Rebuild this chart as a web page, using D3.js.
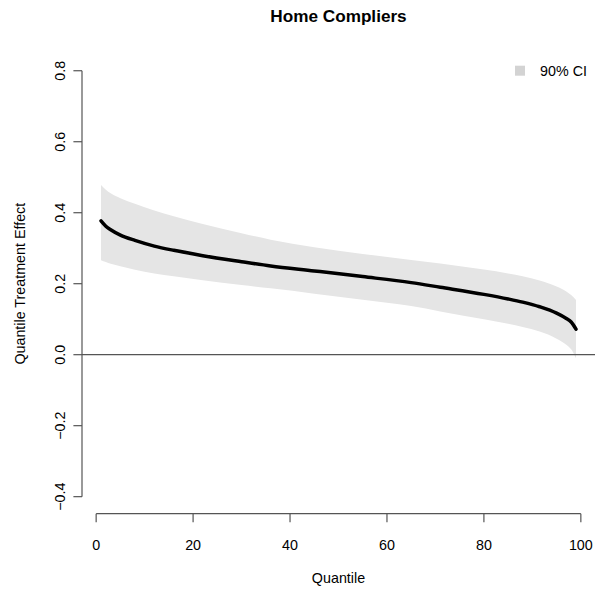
<!DOCTYPE html>
<html>
<head>
<meta charset="utf-8">
<script src="https://cdn.jsdelivr.net/npm/d3@7"></script>
<style>
  body { margin: 0; background: #fff; }
  text { font-family: "Liberation Sans", Arial, sans-serif; }
</style>
</head>
<body>
<div id="chart"></div>
<script>
const quantiles = [1, 2, 3, 5, 8, 12, 16, 22, 30, 36, 45, 55, 65, 71, 80, 85, 88, 91.5, 95, 97, 98, 99];
// point estimate
const effect   = [0.377, 0.362, 0.352, 0.337, 0.322, 0.306, 0.294, 0.279, 0.262, 0.250, 0.236, 0.220, 0.203, 0.190, 0.170, 0.157, 0.148, 0.135, 0.117, 0.102, 0.092, 0.072];
// 90% band
const ciUpper  = [0.478, 0.465, 0.455, 0.441, 0.425, 0.406, 0.390, 0.368, 0.342, 0.324, 0.303, 0.284, 0.267, 0.257, 0.240, 0.229, 0.221, 0.209, 0.192, 0.178, 0.168, 0.154];
const ciLower  = [0.266, 0.261, 0.256, 0.249, 0.239, 0.229, 0.221, 0.210, 0.196, 0.187, 0.172, 0.155, 0.137, 0.122, 0.100, 0.087, 0.078, 0.065, 0.045, 0.028, 0.015, -0.010];

const xTicks = [0, 20, 40, 60, 80, 100];
const yTicks = [-0.4, -0.2, 0.0, 0.2, 0.4, 0.6, 0.8];

const width = 600, height = 589;
const plot = { left: 82, right: 595, top: 53.7, bottom: 513.7 };
const fs = 14.3;   // base font size
const lh = 17.2;   // one margin line

const data = quantiles.map((q, i) => ({ q, est: effect[i], lo: ciLower[i], hi: ciUpper[i] }));

const x = d3.scaleLinear().domain([1 - 3.92, 99 + 3.92]).range([plot.left, plot.right]);
const y = d3.scaleLinear().domain([-0.448, 0.848]).range([plot.bottom, plot.top]);

const svg = d3.select("#chart").append("svg")
  .attr("width", width)
  .attr("height", height);

// confidence band
svg.append("path")
  .datum(data)
  .attr("fill", "#e5e5e5")
  .attr("d", d3.area()
    .x(d => x(d.q))
    .y0(d => y(d.lo))
    .y1(d => y(d.hi))
    .curve(d3.curveMonotoneX));

// zero line
svg.append("line")
  .attr("x1", plot.left).attr("x2", plot.right)
  .attr("y1", y(0)).attr("y2", y(0))
  .attr("stroke", "#555").attr("stroke-width", 1.2);

// estimate
svg.append("path")
  .datum(data)
  .attr("fill", "none")
  .attr("stroke", "#000")
  .attr("stroke-width", 3.5)
  .attr("stroke-linecap", "round")
  .attr("d", d3.line()
    .x(d => x(d.q))
    .y(d => y(d.est))
    .curve(d3.curveMonotoneX));

// x axis (R style: line spans first to last tick)
const xAxis = svg.append("g").attr("transform", `translate(0,${plot.bottom})`);
xAxis.append("line")
  .attr("x1", x(xTicks[0])).attr("x2", x(xTicks[xTicks.length - 1]))
  .attr("stroke", "#555").attr("stroke-width", 1.2);
xAxis.selectAll("line.tick").data(xTicks).join("line")
  .attr("class", "tick")
  .attr("x1", d => x(d)).attr("x2", d => x(d))
  .attr("y1", 0).attr("y2", lh / 2)
  .attr("stroke", "#555").attr("stroke-width", 1.2);
xAxis.selectAll("text").data(xTicks).join("text")
  .attr("x", d => x(d))
  .attr("y", 2 * lh + 2)
  .attr("text-anchor", "middle")
  .attr("font-size", fs)
  .text(d => d);

// y axis
const yAxis = svg.append("g").attr("transform", `translate(${plot.left},0)`);
yAxis.append("line")
  .attr("y1", y(yTicks[0])).attr("y2", y(yTicks[yTicks.length - 1]))
  .attr("stroke", "#555").attr("stroke-width", 1.2);
yAxis.selectAll("line.tick").data(yTicks).join("line")
  .attr("class", "tick")
  .attr("y1", d => y(d)).attr("y2", d => y(d))
  .attr("x1", 0).attr("x2", -lh / 2)
  .attr("stroke", "#555").attr("stroke-width", 1.2);
yAxis.selectAll("text").data(yTicks).join("text")
  .attr("transform", d => `translate(${-lh},${y(d)}) rotate(-90)`)
  .attr("text-anchor", "middle")
  .attr("font-size", fs)
  .text(d => d3.format(".1f")(d).replace("-", "\u2212"));

// titles
svg.append("text")
  .attr("x", (plot.left + plot.right) / 2)
  .attr("y", 22)
  .attr("text-anchor", "middle")
  .attr("font-size", fs * 1.2)
  .attr("font-weight", "bold")
  .text("Home Compliers");

svg.append("text")
  .attr("x", (plot.left + plot.right) / 2)
  .attr("y", plot.bottom + 4 * lh)
  .attr("text-anchor", "middle")
  .attr("font-size", fs)
  .text("Quantile");

svg.append("text")
  .attr("transform", `translate(${plot.left - 3.3 * lh},${(plot.top + plot.bottom) / 2}) rotate(-90)`)
  .attr("text-anchor", "middle")
  .attr("font-size", fs)
  .text("Quantile Treatment Effect");

// legend
const legend = svg.append("g").attr("transform", `translate(${plot.right - 8},${plot.top + 17})`);
legend.append("rect")
  .attr("x", -72).attr("y", -5).attr("width", 10).attr("height", 10)
  .attr("fill", "#d3d3d3");
legend.append("text")
  .attr("x", 0).attr("y", 5)
  .attr("text-anchor", "end")
  .attr("font-size", fs)
  .text("90% CI");
</script>
</body>
</html>
